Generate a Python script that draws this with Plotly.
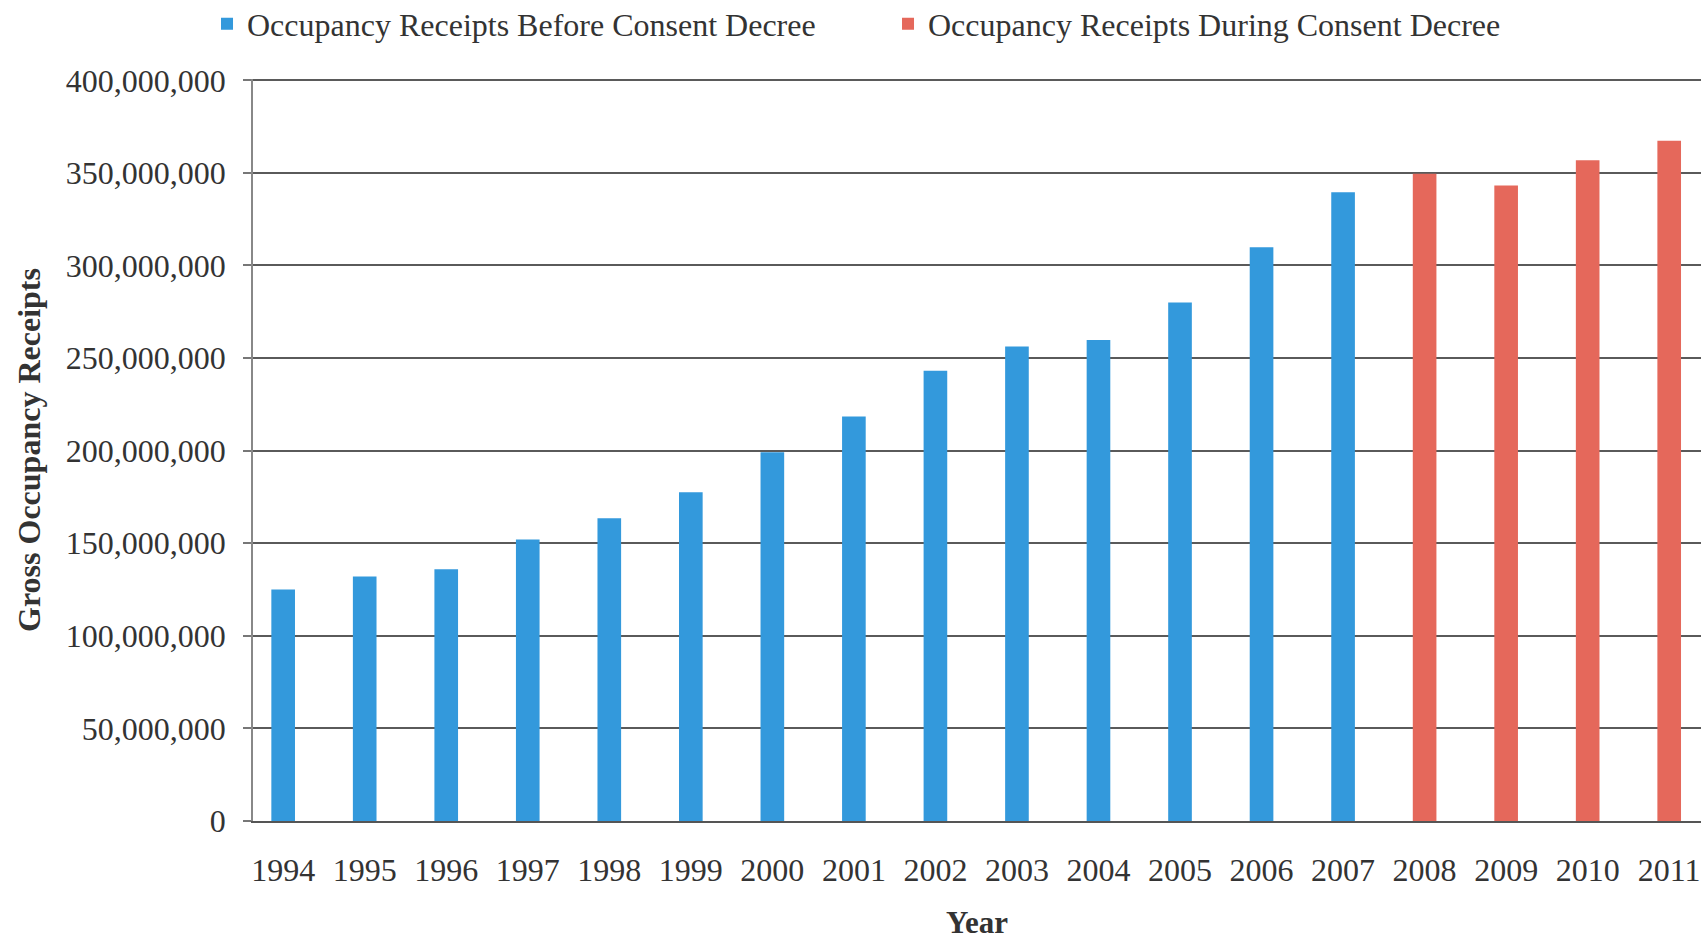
import plotly.graph_objects as go

years_before = ["1994", "1995", "1996", "1997", "1998", "1999", "2000", "2001",
                "2002", "2003", "2004", "2005", "2006", "2007"]
receipts_before = [125e6, 132e6, 136e6, 152e6, 163.5e6, 177.6e6, 199.2e6, 218.5e6,
                   243.2e6, 256.3e6, 259.8e6, 280e6, 309.8e6, 339.5e6]
years_during = ["2008", "2009", "2010", "2011"]
receipts_during = [349.5e6, 343.2e6, 356.8e6, 367.3e6]
all_years = years_before + years_during
y_ticks = [0, 50e6, 100e6, 150e6, 200e6, 250e6, 300e6, 350e6, 400e6]
y_ticktext = ["0", "50,000,000", "100,000,000", "150,000,000", "200,000,000",
              "250,000,000", "300,000,000", "350,000,000", "400,000,000"]

FONT = "Liberation Serif, Times New Roman, serif"

fig = go.Figure()
fig.add_trace(go.Bar(x=years_before, y=receipts_before, width=0.29,
                     name="Occupancy Receipts Before Consent Decree",
                     marker=dict(color="#3399DC", line=dict(width=0))))
fig.add_trace(go.Bar(x=years_during, y=receipts_during, width=0.29,
                     name="Occupancy Receipts During Consent Decree",
                     marker=dict(color="#E5685B", line=dict(width=0))))

fig.update_layout(
    width=1701, height=940,
    margin=dict(l=253, r=0, t=79, b=119, autoexpand=False),
    paper_bgcolor="white", plot_bgcolor="white",
    barmode="overlay",
    font=dict(family=FONT, size=32, color="#333333"),
    legend=dict(orientation="h", xref="container", x=0.1217, xanchor="left",
                yref="container", y=0.9745, yanchor="middle",
                font=dict(family=FONT, size=32, color="#333333"),
                entrywidth=636, itemwidth=30, bgcolor="rgba(0,0,0,0)",
                tracegroupgap=0),
    xaxis=dict(type="category", categoryorder="array", categoryarray=all_years,
               range=[-0.37, 17.39], showgrid=False, showline=True,
               linecolor="#555555", linewidth=1.5, ticks="", ticklabelstandoff=20,
               tickfont=dict(family=FONT, size=32, color="#333333"),
               title=dict(text="<b>Year</b>", standoff=27,
                          font=dict(family=FONT, size=31, color="#333333"))),
    yaxis=dict(range=[0, 400.7e6], tickvals=y_ticks, ticktext=y_ticktext,
               showgrid=True, gridcolor="#5a5a5a", gridwidth=1.5,
               showline=True, linecolor="#888888", linewidth=1.5,
               ticks="outside", ticklen=8, tickcolor="#777777", tickwidth=1.5,
               ticklabelstandoff=11, zeroline=False,
               tickfont=dict(family=FONT, size=32, color="#333333"),
               title=dict(text="<b>Gross Occupancy Receipts</b>", standoff=16,
                          font=dict(family=FONT, size=32, color="#333333"))),
)

fig.write_html("out.html")
